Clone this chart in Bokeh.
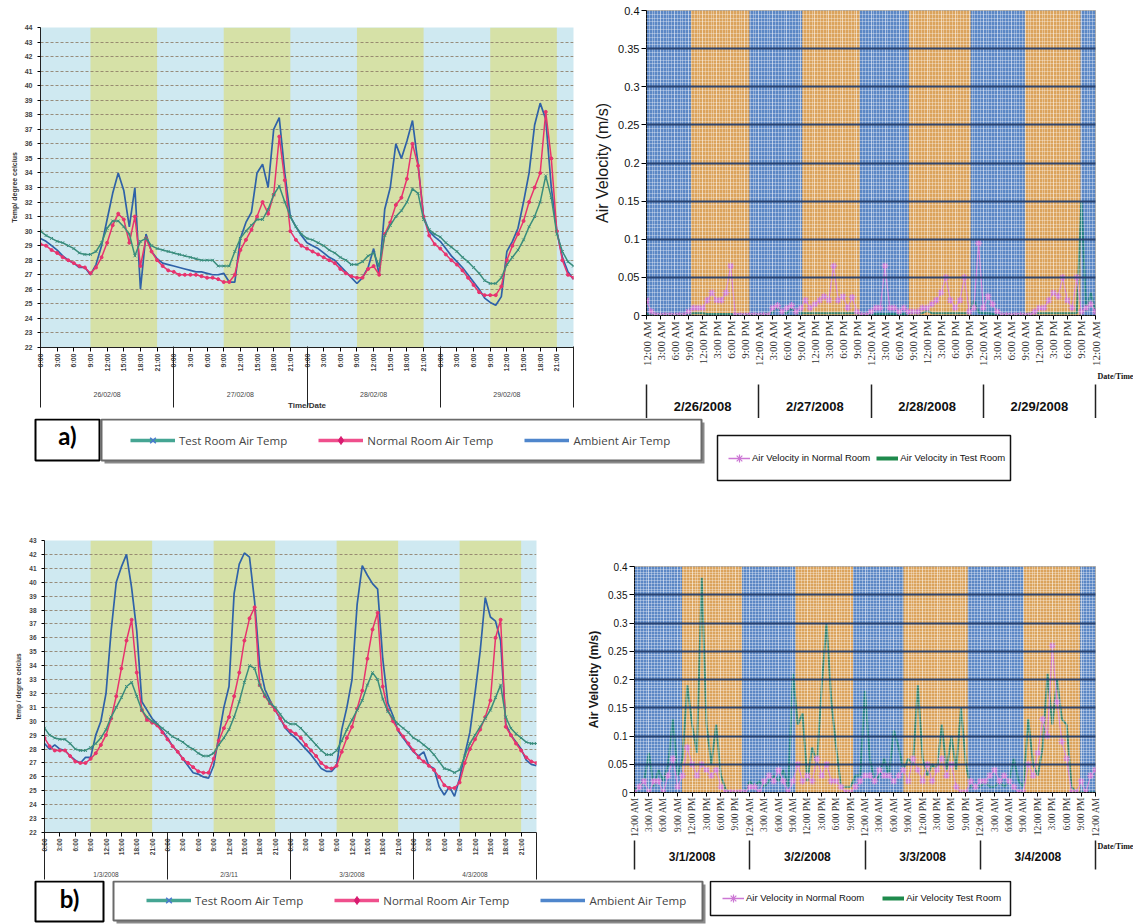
import math
from bokeh.plotting import figure
from bokeh.models import (Range1d, FixedTicker, LinearAxis, Legend, LegendItem,
                          BoxAnnotation, Label, Title, NumeralTickFormatter)
from bokeh.layouts import column, row
from bokeh.embed import file_html
from bokeh.resources import INLINE
from bokeh.core.properties import value

# ---------------- data ----------------
hours = list(range(97))  # hourly readings over four days

# a) 26/02/08 - 29/02/08 temperatures (deg C)
test_a = [
    30.0, 29.7, 29.5, 29.3, 29.2, 29.0, 28.8, 28.5, 28.4, 28.4, 28.6, 29.2, 30.2, 30.7, 30.7, 30.3, 29.8, 28.3, 29.3, 29.5, 29.0, 28.8, 28.7, 28.6,
    28.5, 28.4, 28.3, 28.2, 28.1, 28.0, 28.0, 28.0, 27.6, 27.6, 27.6, 28.6, 29.5, 30.0, 30.4, 30.8, 30.8, 31.5, 32.5, 33.1, 32.0, 31.0, 30.3, 29.8,
    29.5, 29.4, 29.2, 29.0, 28.7, 28.5, 28.2, 28.0, 27.7, 27.7, 27.9, 28.3, 28.5, 27.6, 29.7, 30.4, 31.0, 31.4, 32.0, 32.9, 32.6, 30.8, 30.1, 29.8,
    29.6, 29.2, 28.9, 28.6, 28.2, 27.9, 27.5, 27.1, 26.6, 26.4, 26.4, 26.8, 27.7, 28.2, 28.7, 29.4, 30.3, 31.0, 32.0, 33.8, 32.3, 29.8, 28.6, 27.9, 27.6]
normal_a = [
    29.1, 29.0, 28.7, 28.5, 28.2, 28.0, 27.8, 27.6, 27.5, 27.1, 27.5, 28.2, 29.2, 30.4, 31.2, 30.8, 29.2, 31.0, 27.6, 29.5, 28.6, 28.0, 27.6, 27.3,
    27.2, 27.0, 27.0, 27.0, 27.0, 26.9, 26.8, 26.8, 26.7, 26.5, 26.5, 27.0, 28.7, 29.4, 30.1, 31.0, 32.0, 31.2, 32.5, 36.5, 33.5, 30.0, 29.4, 29.0,
    28.8, 28.6, 28.4, 28.2, 28.0, 27.8, 27.4, 27.1, 26.9, 26.8, 26.8, 27.4, 27.6, 27.0, 29.8, 30.6, 31.8, 32.3, 33.6, 36.0, 34.5, 31.0, 29.7, 29.1,
    28.8, 28.4, 28.0, 27.7, 27.3, 26.8, 26.3, 25.8, 25.6, 25.6, 25.6, 26.2, 28.0, 29.0, 29.8, 30.7, 32.0, 33.0, 34.0, 38.2, 35.0, 30.0, 28.0, 27.0, 26.8]
ambient_a = [
    29.5, 29.3, 29.0, 28.7, 28.3, 28.0, 27.8, 27.5, 27.5, 27.0, 27.7, 29.0, 30.8, 32.6, 34.0, 32.8, 30.3, 33.0, 26.0, 29.8, 28.6, 28.1, 27.8, 27.7,
    27.6, 27.5, 27.4, 27.3, 27.2, 27.2, 27.1, 27.0, 27.0, 27.1, 26.5, 26.5, 29.5, 30.6, 31.3, 34.0, 34.6, 33.0, 37.0, 37.8, 34.0, 31.0, 30.3, 29.7,
    29.2, 29.0, 28.8, 28.5, 28.2, 28.0, 27.6, 27.2, 26.8, 26.4, 26.8, 27.5, 28.8, 27.0, 31.5, 33.0, 36.0, 35.0, 36.2, 37.6, 34.6, 31.0, 30.0, 29.6,
    29.3, 28.8, 28.3, 27.9, 27.5, 27.0, 26.5, 26.0, 25.4, 25.1, 24.9, 25.5, 28.6, 29.3, 30.2, 32.0, 34.0, 37.3, 38.8, 37.7, 33.0, 30.0, 28.2, 27.2, 26.7]

# b) 1/3/2008 - 4/3/2008 temperatures (deg C)
test_b = [
    29.5, 29.0, 28.8, 28.7, 28.7, 28.4, 28.0, 27.9, 27.9, 28.1, 28.4, 28.8, 29.4, 30.3, 31.0, 31.7, 32.5, 32.8, 31.8, 30.8, 30.3, 30.0, 29.8, 29.5,
    29.2, 28.9, 28.7, 28.5, 28.2, 28.0, 27.7, 27.5, 27.5, 27.7, 28.3, 28.8, 29.4, 30.3, 31.4, 32.8, 34.0, 33.8, 32.6, 31.9, 31.3, 31.0, 30.5, 30.0,
    29.8, 29.8, 29.5, 29.1, 28.7, 28.3, 27.9, 27.6, 27.6, 27.9, 28.6, 29.4, 30.1, 30.8, 31.5, 32.6, 33.5, 33.0, 31.6, 30.7, 30.2, 29.8, 29.5, 29.2,
    28.8, 28.6, 28.3, 28.0, 27.6, 27.1, 26.6, 26.5, 26.3, 26.5, 27.5, 28.4, 29.0, 29.6, 30.2, 30.8, 31.7, 32.6, 30.3, 29.5, 29.1, 28.8, 28.5, 28.4, 28.4]
normal_b = [
    28.8, 28.2, 27.9, 27.9, 27.9, 27.5, 27.1, 27.0, 27.0, 27.3, 27.7, 28.3, 29.0, 30.2, 31.8, 33.8, 35.8, 37.3, 33.5, 30.8, 30.1, 29.9, 29.7, 29.2,
    28.7, 28.2, 27.8, 27.3, 27.0, 26.7, 26.4, 26.3, 26.3, 27.3, 28.6, 29.5, 30.3, 31.8, 33.5, 35.8, 37.4, 38.2, 32.6, 31.8, 31.3, 30.8, 30.2, 29.6,
    29.3, 29.1, 28.8, 28.3, 27.9, 27.5, 27.0, 26.7, 26.6, 26.8, 27.8, 28.8, 29.6, 30.9, 32.2, 34.5, 36.6, 37.8, 32.5, 30.8, 30.0, 29.4, 28.9, 28.4,
    27.9, 27.4, 27.1, 26.8, 26.5, 26.0, 25.4, 25.2, 25.2, 25.6, 27.0, 28.0, 28.7, 29.4, 30.3, 31.5, 36.0, 37.3, 29.6, 29.0, 28.4, 27.9, 27.4, 27.1, 27.0]
ambient_b = [
    28.4, 28.0, 28.3, 28.0, 27.9, 27.5, 27.2, 27.0, 27.4, 27.4, 29.0, 30.0, 32.0, 36.5, 40.0, 41.1, 42.0, 39.6, 36.5, 31.4, 30.8, 30.2, 29.8, 29.3,
    28.8, 28.2, 27.8, 27.3, 26.8, 26.3, 26.2, 26.0, 25.9, 26.8, 28.9, 31.0, 32.5, 39.2, 41.3, 42.1, 41.8, 38.6, 34.0, 32.3, 31.5, 30.8, 30.2, 29.5,
    29.1, 28.8, 28.4, 28.0, 27.6, 27.1, 26.6, 26.4, 26.4, 26.8, 29.4, 31.0, 33.0, 38.4, 41.2, 40.5, 39.9, 39.5, 34.5, 31.3, 30.4, 29.3, 28.8, 28.3,
    27.8, 27.5, 27.8, 26.8, 26.6, 25.3, 24.7, 25.3, 24.6, 25.9, 27.6, 29.2, 32.0, 35.0, 38.9, 37.5, 37.2, 35.8, 29.8, 29.0, 28.5, 28.0, 27.2, 26.9, 26.8]

# air velocity (m/s)
vel_test_a = [
    0.002, 0.002, 0.002, 0.002, 0.002, 0.002, 0.002, 0.002, 0.002, 0.002, 0.003, 0.003, 0.003, 0.002, 0.002, 0.002, 0.002, 0.002, 0.002, 0.002, 0.002, 0.002, 0.002, 0.002,
    0.002, 0.002, 0.003, 0.004, 0.012, 0.004, 0.003, 0.010, 0.003, 0.003, 0.003, 0.003, 0.003, 0.003, 0.003, 0.003, 0.003, 0.003, 0.003, 0.003, 0.003, 0.003, 0.002, 0.002,
    0.002, 0.002, 0.002, 0.002, 0.002, 0.002, 0.002, 0.002, 0.003, 0.003, 0.003, 0.003, 0.006, 0.003, 0.003, 0.003, 0.003, 0.003, 0.003, 0.003, 0.003, 0.003, 0.020, 0.004,
    0.003, 0.003, 0.002, 0.002, 0.002, 0.002, 0.002, 0.002, 0.002, 0.002, 0.003, 0.003, 0.003, 0.003, 0.003, 0.003, 0.003, 0.003, 0.003, 0.003, 0.003, 0.150, 0.005, 0.030, 0.004]
vel_normal_a = [
    0.020, 0.005, 0.0, 0.0, 0.0, 0.0, 0.0, 0.0, 0.0, 0.005, 0.010, 0.010, 0.010, 0.020, 0.030, 0.020, 0.020, 0.030, 0.065, 0.0, 0.0, 0.0, 0.0, 0.0,
    0.0, 0.0, 0.0, 0.010, 0.013, 0.005, 0.010, 0.013, 0.005, 0.010, 0.020, 0.010, 0.015, 0.020, 0.025, 0.020, 0.065, 0.020, 0.025, 0.010, 0.024, 0.005, 0.0, 0.0,
    0.005, 0.010, 0.010, 0.065, 0.010, 0.010, 0.005, 0.010, 0.005, 0.005, 0.005, 0.010, 0.010, 0.015, 0.020, 0.030, 0.050, 0.020, 0.010, 0.020, 0.050, 0.005, 0.010, 0.095,
    0.010, 0.025, 0.015, 0.005, 0.0, 0.0, 0.0, 0.0, 0.0, 0.0, 0.0, 0.005, 0.010, 0.010, 0.020, 0.030, 0.025, 0.050, 0.020, 0.010, 0.050, 0.005, 0.010, 0.015, 0.005]
vel_test_b = [
    0.005, 0.01, 0.02, 0.07, 0.01, 0.04, 0.02, 0.05, 0.13, 0.03, 0.06, 0.19, 0.12, 0.07, 0.38, 0.12, 0.05, 0.12, 0.03, 0.005, 0.0, 0.0, 0.0, 0.0,
    0.02, 0.01, 0.02, 0.01, 0.02, 0.03, 0.02, 0.04, 0.01, 0.21, 0.12, 0.14, 0.02, 0.08, 0.05, 0.19, 0.30, 0.16, 0.08, 0.01, 0.01, 0.01, 0.03, 0.03,
    0.18, 0.06, 0.02, 0.03, 0.06, 0.03, 0.11, 0.08, 0.04, 0.06, 0.05, 0.19, 0.06, 0.03, 0.05, 0.04, 0.12, 0.04, 0.10, 0.04, 0.15, 0.05, 0.01, 0.01,
    0.01, 0.02, 0.01, 0.01, 0.02, 0.01, 0.02, 0.06, 0.02, 0.01, 0.13, 0.05, 0.03, 0.08, 0.21, 0.12, 0.20, 0.13, 0.12, 0.01, 0.0, 0.0, 0.0, 0.0, 0.0]
vel_normal_b = [
    0.0, 0.01, 0.02, 0.0, 0.02, 0.02, 0.0, 0.03, 0.06, 0.01, 0.03, 0.08, 0.05, 0.03, 0.05, 0.04, 0.03, 0.04, 0.01, 0.0, 0.0, 0.0, 0.0, 0.0,
    0.01, 0.01, 0.0, 0.02, 0.03, 0.02, 0.04, 0.02, 0.0, 0.02, 0.05, 0.02, 0.03, 0.02, 0.06, 0.03, 0.05, 0.02, 0.02, 0.01, 0.0, 0.0, 0.01, 0.02,
    0.03, 0.03, 0.02, 0.04, 0.03, 0.03, 0.02, 0.03, 0.04, 0.02, 0.06, 0.04, 0.02, 0.05, 0.02, 0.04, 0.06, 0.03, 0.05, 0.01, 0.0, 0.0, 0.02, 0.01,
    0.02, 0.02, 0.03, 0.04, 0.02, 0.03, 0.02, 0.01, 0.0, 0.0, 0.05, 0.03, 0.07, 0.13, 0.10, 0.26, 0.16, 0.09, 0.06, 0.0, 0.0, 0.02, 0.0, 0.03, 0.04]

# daytime shading (hours)
temp_band_start = [9, 33, 57, 81]
temp_band_end = [21, 45, 69, 93]
vel_band_start_a = [9.5, 33.3, 56.1, 80.9]
vel_band_end_a = [22.0, 45.6, 69.3, 92.8]
vel_band_start_b = [9.9, 33.5, 56.0, 81.0]
vel_band_end_b = [22.4, 45.5, 69.4, 92.8]

# ticks / labels
temp_tick_hours = [0, 3, 6, 9, 12, 15, 18, 21, 24, 27, 30, 33, 36, 39, 42, 45,
                   48, 51, 54, 57, 60, 63, 66, 69, 72, 75, 78, 81, 84, 87, 90, 93]
temp_tick_text = ["0:00", "3:00", "6:00", "9:00", "12:00", "15:00", "18:00", "21:00"]
vel_tick_hours = temp_tick_hours + [96]
vel_tick_text = ["12:00 AM", "3:00 AM", "6:00 AM", "9:00 AM", "12:00 PM", "3:00 PM", "6:00 PM", "9:00 PM"]
day_mid = [12, 36, 60, 84]
day_edges = [0, 24, 48, 72, 96]
dates_temp_a = ["26/02/08", "27/02/08", "28/02/08", "29/02/08"]
dates_temp_b = ["1/3/2008", "2/3/11", "3/3/2008", "4/3/2008"]
dates_vel_a = ["2/26/2008", "2/27/2008", "2/28/2008", "2/29/2008"]
dates_vel_b = ["3/1/2008", "3/2/2008", "3/3/2008", "3/4/2008"]
vel_ticks = [0, 0.05, 0.1, 0.15, 0.2, 0.25, 0.3, 0.35, 0.4]

# ---------------- styles ----------------
TEST_C = "#3a8d7d"
NORM_C = "#e8336e"
AMB_C = "#2f62a8"
VTEST_C = "#1a7f74"
VNORM_C = "#cc77d4"
SANS = "Liberation Sans"
SERIF = "Liberation Serif"
NAN = float("nan")


def base_fig(w, h, bl, br, bt, bb, y0, y1):
    return figure(width=w, height=h, title=None, x_range=Range1d(0, 96), y_range=Range1d(y0, y1),
                  output_backend="svg", toolbar_location=None, frame_align=False,
                  min_border_left=bl, min_border_right=br, min_border_top=bt, min_border_bottom=bb)


def temp_panel(w, h, bl, br, bt, bb, ymax, test, normal, ambient, dates, ylab, xlab,
               fs, minor_in, minor_out, date_standoff):
    p = base_fig(w, h, bl, br, bt, bb, 22, ymax)
    p.background_fill_color = "#cfe9f1"
    p.outline_line_color = None
    p.quad(left=temp_band_start, right=temp_band_end, bottom=22, top=ymax,
           fill_color="#d6e1a7", line_color=None, level="image")
    yt = FixedTicker(ticks=list(range(22, ymax + 1)))
    p.yaxis.ticker = yt
    p.ygrid.ticker = yt
    p.xgrid.visible = False
    p.ygrid.grid_line_color = "#8d7b66"
    p.ygrid.grid_line_dash = "3 2"
    p.ygrid.grid_line_alpha = 0.85
    p.line(hours, ambient, line_color=AMB_C, line_width=1.7)
    p.line(hours, normal, line_color=NORM_C, line_width=1.5)
    p.scatter(hours, normal, marker="circle", size=3, color=NORM_C)
    p.line(hours, test, line_color=TEST_C, line_width=1.5)
    p.scatter(hours, test, marker="x", size=4, line_color=TEST_C, line_width=1)

    ya = p.yaxis[0]
    ya.axis_label = ylab
    ya.axis_label_text_font = SANS
    ya.axis_label_text_font_size = fs
    ya.axis_label_text_font_style = "bold"
    ya.axis_label_text_color = "#333333"
    ya.axis_label_standoff = 4
    ya.major_label_text_font = SANS
    ya.major_label_text_font_size = fs
    ya.major_label_text_font_style = "bold"
    ya.major_label_text_color = "#444444"
    ya.major_tick_out = 3
    ya.major_tick_in = 0
    ya.minor_tick_line_color = None
    ya.axis_line_color = "#222222"

    xt = FixedTicker(ticks=temp_tick_hours)
    xa = p.xaxis[0]
    xa.ticker = xt
    xa.major_label_overrides = {t: temp_tick_text[(t // 3) % 8] for t in temp_tick_hours}
    xa.major_label_orientation = math.pi / 2
    xa.major_label_text_font = SANS
    xa.major_label_text_font_size = fs
    xa.major_label_text_font_style = "bold"
    xa.major_label_text_color = "#444444"
    xa.major_label_standoff = 2
    xa.major_tick_out = 4
    xa.major_tick_in = 0
    xa.minor_tick_line_color = None
    xa.axis_line_color = "#222222"

    da = LinearAxis(ticker=FixedTicker(ticks=day_mid, minor_ticks=day_edges),
                    major_label_overrides=dict(zip(day_mid, dates)))
    da.axis_line_color = None
    da.major_tick_line_color = None
    da.major_tick_out = 0
    da.major_tick_in = 0
    da.minor_tick_in = minor_in
    da.minor_tick_out = minor_out
    da.minor_tick_line_color = "#222222"
    da.minor_tick_line_width = 1
    da.major_label_standoff = date_standoff
    da.major_label_text_font = SANS
    da.major_label_text_font_size = fs
    da.major_label_text_color = "#444444"
    if xlab:
        da.axis_label = xlab
        da.axis_label_text_font = SANS
        da.axis_label_text_font_size = "8px"
        da.axis_label_text_font_style = "bold"
        da.axis_label_text_color = "#333333"
        da.axis_label_standoff = 0
    p.add_layout(da, "below")
    return p


def vel_panel(w, h, bl, br, bt, bb, test, normal, bs, be, dates, ylab_fs, ylab_style,
              ytick_fs, time_fs, date_fs, minor_in, minor_out, date_standoff, frame_w):
    p = base_fig(w, h, bl, br, bt, bb, 0, 0.4)
    p.background_fill_color = "#5b87c5"
    p.outline_line_color = "#a8a8a8"
    p.quad(left=bs, right=be, bottom=0, top=0.4, fill_color="#dba35c", line_color=None, level="image")
    p.line(hours, test, line_color=VTEST_C, line_width=2, line_alpha=0.85)
    p.line(hours, normal, line_color=VNORM_C, line_width=1.2)
    p.scatter(hours, normal, marker="asterisk", size=7, line_color=VNORM_C, line_width=1.2)

    xt = FixedTicker(ticks=vel_tick_hours, minor_ticks=[i * 0.6 for i in range(161)])
    yt = FixedTicker(ticks=vel_ticks, minor_ticks=[i * 0.005 for i in range(81)])
    p.xaxis.ticker = xt
    p.xgrid.ticker = xt
    p.yaxis.ticker = yt
    p.ygrid.ticker = FixedTicker(ticks=vel_ticks[1:], minor_ticks=[i * 0.005 for i in range(1, 81)])
    for g in (p.xgrid[0], p.ygrid[0]):
        g.level = "overlay"
        g.minor_grid_line_color = "white"
        g.minor_grid_line_alpha = 0.33
        g.minor_grid_line_width = 1
    p.xgrid.grid_line_color = "white"
    p.xgrid.grid_line_alpha = 0.33
    p.ygrid.grid_line_color = "#1d3767"
    p.ygrid.grid_line_width = 2
    p.ygrid.grid_line_alpha = 0.9

    ya = p.yaxis[0]
    ya.formatter = NumeralTickFormatter(format="0.[00]")
    ya.axis_label = "Air Velocity (m/s)"
    ya.axis_label_text_font = SANS
    ya.axis_label_text_font_size = ylab_fs
    ya.axis_label_text_font_style = ylab_style
    ya.axis_label_text_color = "#1a1a1a"
    ya.axis_label_standoff = 4
    ya.major_label_text_font = SANS
    ya.major_label_text_font_size = ytick_fs
    ya.major_label_text_color = "#111111"
    ya.major_label_standoff = 2
    ya.major_tick_out = 5
    ya.major_tick_in = 0
    ya.minor_tick_line_color = None
    ya.axis_line_color = "#111111"

    xa = p.xaxis[0]
    xa.major_label_overrides = {t: vel_tick_text[(t // 3) % 8] for t in vel_tick_hours}
    xa.major_label_orientation = math.pi / 2
    xa.major_label_text_font = SERIF
    xa.major_label_text_font_size = time_fs
    xa.major_label_text_color = "#333333"
    xa.major_label_standoff = 1
    xa.major_tick_out = 4
    xa.major_tick_in = 0
    xa.minor_tick_line_color = None
    xa.axis_line_color = "#111111"

    p.add_layout(Title(text="Date/Time", align="left", offset=frame_w + 2, standoff=0,
                       text_font=SERIF, text_font_style="bold", text_font_size="8px",
                       text_color="#111111"), "below")

    da = LinearAxis(ticker=FixedTicker(ticks=day_mid, minor_ticks=day_edges),
                    major_label_overrides=dict(zip(day_mid, dates)))
    da.axis_line_color = None
    da.major_tick_line_color = None
    da.major_tick_out = 0
    da.major_tick_in = 0
    da.minor_tick_in = minor_in
    da.minor_tick_out = minor_out
    da.minor_tick_line_color = "#222222"
    da.minor_tick_line_width = 1.5
    da.major_label_standoff = date_standoff
    da.major_label_text_font = SANS
    da.major_label_text_font_size = date_fs
    da.major_label_text_font_style = "bold"
    da.major_label_text_color = "#111111"
    p.add_layout(da, "below")
    return p


def strip(h):
    s = figure(width=1133, height=h, title=None, x_range=Range1d(0, 1133), y_range=Range1d(h, 0),
               output_backend="svg", toolbar_location=None, min_border=0, frame_align=False,
               x_axis_location=None, y_axis_location=None)
    s.xgrid.visible = False
    s.ygrid.visible = False
    s.outline_line_color = None
    return s


def tag(s, text, box, ty):
    l, r, t, b = box
    s.add_layout(BoxAnnotation(left=l, right=r, top=t, bottom=b, fill_color="white", fill_alpha=1,
                               line_color="black", line_width=2, line_alpha=1))
    s.add_layout(Label(x=(l + r) / 2, y=ty, text=text, text_font="Lato", text_font_style="bold",
                       text_font_size="24px", text_color="black",
                       text_align="center", text_baseline="middle"))


def temp_legend(s, box, vx, vy):
    l, r, t, b = box
    s.add_layout(BoxAnnotation(left=l + 3, right=r + 3, top=t + 3, bottom=b + 3,
                               fill_color="#8a8a8a", fill_alpha=1, line_color=None))
    s.add_layout(BoxAnnotation(left=l, right=r, top=t, bottom=b, fill_color="white", fill_alpha=1,
                               line_color="#6a6a6a", line_width=2, line_alpha=1))
    lt = s.line([NAN], [NAN], line_color="#45a593", line_width=3.5)
    st = s.scatter([NAN], [NAN], marker="x", size=10, line_color="#4a78d0", line_width=1.5)
    ln = s.line([NAN], [NAN], line_color="#ef4f8c", line_width=3.5)
    sn = s.scatter([NAN], [NAN], marker="diamond", size=9, color="#d81b70")
    la = s.line([NAN], [NAN], line_color="#4f86cc", line_width=3.5)
    leg = Legend(items=[LegendItem(label=value("Test Room Air Temp"), renderers=[lt, st]),
                        LegendItem(label=value("Normal Room Air Temp"), renderers=[ln, sn]),
                        LegendItem(label=value("Ambient Air Temp"), renderers=[la])],
                 location=(vx, vy), orientation="horizontal", border_line_color=None,
                 background_fill_alpha=0, padding=0, margin=0, spacing=31, label_standoff=4,
                 glyph_width=45, glyph_height=20, label_text_font="Open Sans",
                 label_text_font_size="11.5px", label_text_color="#444444")
    s.add_layout(leg)


def vel_legend(s, box, vx, vy, test_label, spacing):
    l, r, t, b = box
    s.add_layout(BoxAnnotation(left=l, right=r, top=t, bottom=b, fill_color="white", fill_alpha=1,
                               line_color="#111111", line_width=1.5, line_alpha=1))
    ln = s.line([NAN], [NAN], line_color=VNORM_C, line_width=1.5)
    sn = s.scatter([NAN], [NAN], marker="asterisk", size=10, line_color=VNORM_C, line_width=1.2)
    lt = s.line([NAN], [NAN], line_color="#1e8a4c", line_width=4)
    leg = Legend(items=[LegendItem(label=value("Air Velocity in Normal Room"), renderers=[ln, sn]),
                        LegendItem(label=value(test_label), renderers=[lt])],
                 location=(vx, vy), orientation="horizontal", border_line_color=None,
                 background_fill_alpha=0, padding=0, margin=0, spacing=spacing, label_standoff=2,
                 glyph_width=22, glyph_height=20, label_text_font=SANS,
                 label_text_font_size="9.5px", label_text_color="#111111")
    s.add_layout(leg)


# ---------------- panels ----------------
tl = temp_panel(590, 418, 40, 17, 27, 71, 44, test_a, normal_a, ambient_a, dates_temp_a,
                "Temp/ degree celcius", "Time/Date", "7px", 28, 33, -17)

tr = vel_panel(543, 418, 56, 38, 10, 103, vel_test_a, vel_normal_a, vel_band_start_a, vel_band_end_a,
               dates_vel_a, "16px", "normal", "11px", "11px", "13px", -4, 44, -26, 449)

bl = temp_panel(580, 390, 44, 44, 50, 47, 43, test_b, normal_b, ambient_b, dates_temp_b,
                "temp / degree celcius", None, "6.5px", 26, 21, -9)

br = vel_panel(553, 390, 54, 38, 76, 88, vel_test_b, vel_normal_b, vel_band_start_b, vel_band_end_b,
               dates_vel_b, "12px", "bold", "10px", "9.5px", "12px", 10, 19, -20, 461)

s1 = strip(72)
tag(s1, "a)", (35, 99, 1, 42), 17)
temp_legend(s1, (101, 701, 1, 42), 130, 40)
vel_legend(s1, (717, 1010, 17, 62), 728, 22.5, "Air Velocity in Test Room", 6)

s2 = strip(44)
tag(s2, "b)", (35, 103, 1, 41), 18)
temp_legend(s2, (113, 702, 1, 40), 146, 14)
vel_legend(s2, (710, 1010, 1, 35), 722, 16.5, "Air Velocity Test Room", 18)

layout = column(row(tl, tr), s1, row(bl, br), s2)

open("out.html", "w").write(file_html(layout, INLINE))
